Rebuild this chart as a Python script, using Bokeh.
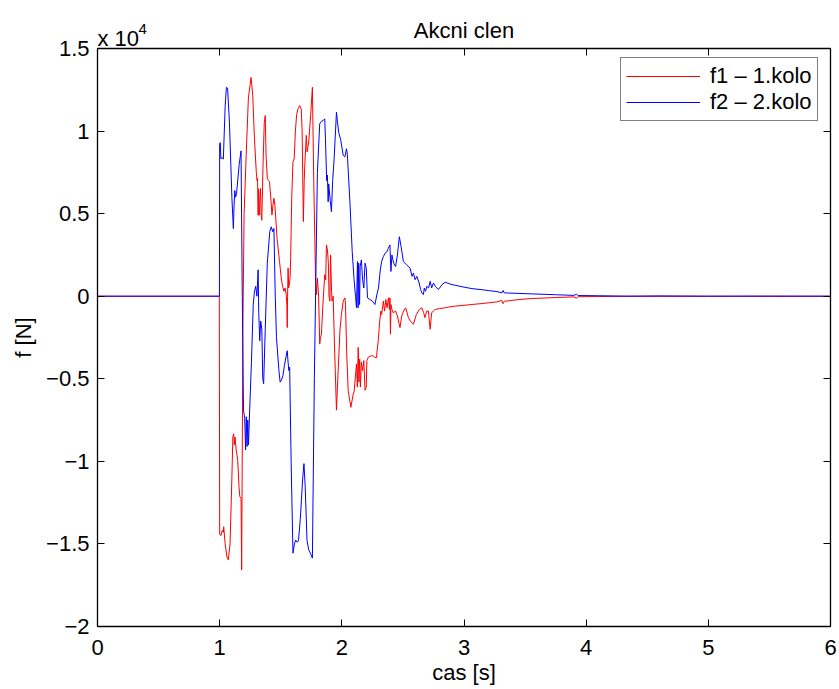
from bokeh.plotting import figure
from bokeh.models import (ColumnDataSource, FixedTicker, LinearAxis,
                          CustomJSTickFormatter, Range1d)
from bokeh.core.properties import value
from bokeh.embed import file_html
from bokeh.resources import INLINE

# ---------------- data (force in units of 10^4 N) ----------------
title_text = "Akcni clen"
x_label = "cas [s]"
y_label = "f [N]"
exp_base = "x 10"
exp_power = "4"
series_names = ["f1 \u2013 1.kolo", "f2 \u2013 2.kolo"]
x_ticks = [0, 1, 2, 3, 4, 5, 6]
y_ticks = [-2, -1.5, -1, -0.5, 0, 0.5, 1, 1.5]
x_lim = (0, 6)
y_lim = (-2, 1.5)

t_f2 = [0.0, 0.998, 1.0, 1.005, 1.01, 1.02, 1.03, 1.045, 1.055, 1.065, 1.08, 1.10,
        1.112, 1.118, 1.124, 1.13, 1.138, 1.16, 1.175, 1.185, 1.195, 1.205, 1.212,
        1.218, 1.224, 1.23, 1.236, 1.245, 1.26, 1.275, 1.285, 1.295, 1.305, 1.315,
        1.32, 1.328, 1.336, 1.345, 1.353, 1.36, 1.373, 1.39, 1.41, 1.422, 1.435,
        1.444, 1.455, 1.465, 1.471, 1.485, 1.495, 1.505, 1.518, 1.53, 1.545, 1.553,
        1.56, 1.566, 1.573, 1.585, 1.60, 1.612, 1.622, 1.635, 1.645, 1.66, 1.68,
        1.69, 1.70, 1.715, 1.729, 1.745, 1.759, 1.775, 1.80, 1.819, 1.835, 1.847,
        1.86, 1.866, 1.872, 1.876, 1.882, 1.888, 1.893, 1.896, 1.905, 1.915, 1.925,
        1.937, 1.956, 1.965, 1.975, 1.99, 2.011, 2.025, 2.038, 2.045, 2.066, 2.085,
        2.10, 2.112, 2.12, 2.128, 2.133, 2.138, 2.145, 2.15, 2.16, 2.17, 2.18, 2.19,
        2.20, 2.21, 2.23, 2.25, 2.271, 2.29, 2.30, 2.315, 2.326, 2.34, 2.354, 2.37,
        2.38, 2.394, 2.398, 2.402, 2.41, 2.418, 2.425, 2.44, 2.455, 2.471, 2.485,
        2.504, 2.53, 2.559, 2.575, 2.586, 2.60, 2.614, 2.633, 2.645, 2.655, 2.668,
        2.675, 2.685, 2.696, 2.71, 2.723, 2.735, 2.75, 2.765, 2.79, 2.82, 2.846,
        2.88, 2.928, 3.0, 3.065, 3.14, 3.203, 3.27, 3.31, 3.32, 3.33, 3.34, 3.45,
        3.558, 3.75, 3.90, 3.92, 3.935, 4.1, 4.35, 4.6, 5.0, 5.5, 6.0]
f2 = [0.0, 0.0, 0.924, 0.93, 0.833, 0.84, 0.83, 1.15, 1.265, 1.26, 1.05, 0.60,
      0.41, 0.55, 0.64, 0.60, 0.62, 0.80, 0.88, 0.0, -0.69, -0.74, -0.93,
      -0.73, -0.91, -0.75, -0.90, -0.70, -0.40, -0.05, 0.03, 0.06, 0.0, 0.16,
      -0.10, -0.27, -0.15, -0.20, -0.50, -0.53, -0.20, 0.20, 0.39, 0.42, 0.39,
      0.41, 0.0, -0.25, -0.31, -0.45, -0.52, -0.51, -0.48, -0.42, -0.36, -0.33,
      -0.40, -0.45, -0.43, -1.0, -1.556, -1.50, -1.476, -1.49, -1.48, -1.35, -1.10,
      -1.014, -1.15, -1.48, -1.536, -1.56, -1.586, -0.50, 0.75, 1.044, 1.06, 1.064,
      1.074, 0.954, 0.80, 0.70, 0.733, 0.572, 0.68, 0.652, 0.58, 0.512, 0.70,
      0.833, 1.114, 1.05, 0.99, 0.95, 0.853, 0.843, 0.893, 0.86, 0.572, 0.27,
      0.10, 0.0, -0.07, 0.21, -0.07, 0.20, -0.05, 0.18, 0.22, 0.10, 0.05, 0.20,
      0.17, -0.01, -0.02, -0.03, -0.05, 0.02, 0.05, 0.16, 0.21, 0.24, 0.26, 0.27,
      0.29, 0.31, 0.22, 0.15, 0.25, 0.22, 0.20, 0.18, 0.25, 0.36, 0.30,
      0.21, 0.19, 0.17, 0.12, 0.14, 0.10, 0.12, 0.08, 0.04, 0.02, 0.01,
      0.05, 0.03, 0.06, 0.05, 0.09, 0.05, 0.08, 0.06, 0.04, 0.07, 0.085,
      0.075, 0.066, 0.055, 0.046, 0.04, 0.034, 0.028, 0.02, 0.035, 0.02, 0.02, 0.017,
      0.014, 0.009, 0.005, 0.012, 0.004, 0.003, 0.0, 0.002, 0.0, 0.001, 0.0]

t_f1 = [0.0, 0.997, 1.0, 1.01, 1.02, 1.025, 1.03, 1.033, 1.045, 1.06, 1.071, 1.085,
        1.10, 1.108, 1.115, 1.12, 1.126, 1.135, 1.148, 1.158, 1.165, 1.175, 1.18,
        1.19, 1.20, 1.217, 1.235, 1.257, 1.271, 1.285, 1.30, 1.306, 1.31, 1.315,
        1.318, 1.322, 1.326, 1.329, 1.334, 1.34, 1.345, 1.355, 1.365, 1.373, 1.38,
        1.39, 1.40, 1.408, 1.418, 1.428, 1.436, 1.444, 1.452, 1.47, 1.49, 1.504,
        1.515, 1.526, 1.535, 1.545, 1.55, 1.553, 1.556, 1.56, 1.565, 1.573, 1.577,
        1.581, 1.59, 1.60, 1.61, 1.62, 1.63, 1.641, 1.655, 1.668, 1.675, 1.685,
        1.692, 1.698, 1.709, 1.716, 1.722, 1.729, 1.745, 1.759, 1.77, 1.785, 1.792,
        1.80, 1.81, 1.819, 1.825, 1.833, 1.845, 1.86, 1.868, 1.874, 1.882, 1.89,
        1.895, 1.902, 1.908, 1.915, 1.92, 1.929, 1.94, 1.956, 1.97, 1.985, 1.997,
        2.011, 2.025, 2.03, 2.04, 2.052, 2.074, 2.093, 2.10, 2.11, 2.12, 2.127,
        2.134, 2.14, 2.146, 2.152, 2.16, 2.17, 2.18, 2.19, 2.20, 2.205, 2.216,
        2.24, 2.257, 2.27, 2.284, 2.29, 2.298, 2.31, 2.32, 2.326, 2.34, 2.35, 2.36,
        2.37, 2.382, 2.39, 2.394, 2.398, 2.402, 2.41, 2.42, 2.44, 2.455, 2.476,
        2.49, 2.505, 2.523, 2.545, 2.56, 2.586, 2.61, 2.635, 2.655, 2.67, 2.68,
        2.695, 2.709, 2.716, 2.723, 2.735, 2.75, 2.764, 2.80, 2.846, 2.88, 2.928,
        3.0, 3.065, 3.14, 3.203, 3.27, 3.31, 3.32, 3.33, 3.34, 3.45, 3.558, 3.75,
        3.90, 3.92, 3.935, 4.1, 4.35, 4.6, 5.0, 5.5, 6.0]
f1 = [0.0, 0.0, -1.44, -1.45, -1.42, -1.416, -1.43, -1.396, -1.50, -1.58, -1.596, -1.50,
      -1.10, -0.85, -0.833, -0.90, -0.853, -0.93, -0.994, -1.15, -1.215, -1.22, -1.657,
      -0.20, 0.50, 0.853, 1.20, 1.325, 1.215, 0.95, 0.75, 0.70, 0.713, 0.49,
      0.65, 0.49, 0.492, 0.60, 0.653, 0.49, 0.46, 0.80, 1.05, 1.094, 0.85,
      0.713, 0.70, 0.693, 0.60, 0.492, 0.55, 0.593, 0.552, 0.35, 0.21, 0.11,
      0.06, 0.03, 0.05, 0.01, -0.05, -0.19, 0.0, 0.17, 0.05, 0.09, 0.12,
      0.23, 0.60, 0.813, 0.833, 1.0, 1.10, 1.134, 1.154, 1.134, 1.0, 0.452,
      0.70, 0.813, 0.974, 0.874, 0.90, 0.934, 1.10, 1.265, 0.70, 0.10, 0.01,
      0.11, 0.0, -0.29, -0.25, -0.23, -0.05, 0.13, 0.10, 0.31, 0.28, 0.20,
      0.0, -0.03, 0.25, 0.05, -0.03, 0.0, -0.30, -0.69, -0.45, -0.20, -0.11,
      -0.03, -0.01, -0.05, -0.35, -0.57, -0.673, -0.593, -0.58, -0.50, -0.41, -0.55,
      -0.31, -0.52, -0.38, -0.55, -0.40, -0.45, -0.39, -0.57, -0.55, -0.39, -0.37,
      -0.36, -0.362, -0.37, -0.372, -0.32, -0.27, -0.15, -0.09, -0.11, -0.03, -0.09, -0.02,
      -0.07, -0.01, -0.08, -0.01, -0.23, -0.05, -0.08, -0.10, -0.09, -0.12, -0.19,
      -0.12, -0.09, -0.07, -0.13, -0.15, -0.17, -0.11, -0.08, -0.07, -0.10, -0.13,
      -0.09, -0.09, -0.15, -0.20, -0.10, -0.09, -0.08, -0.075, -0.07, -0.065, -0.06,
      -0.055, -0.05, -0.045, -0.04, -0.034, -0.026, -0.045, -0.03, -0.03, -0.02, -0.014, -0.008,
      -0.004, -0.012, -0.003, -0.002, 0.0, -0.001, 0.0, -0.001, 0.0]

# ---------------- layout (pixels) ----------------
W, H = 839, 689
FL, FR, FT, FB = 97, 830, 48, 626      # axes box inside the figure
FONT = "Liberation Sans"

xs = (x_lim[1] - x_lim[0]) / (FR - FL)
ys = (y_lim[1] - y_lim[0]) / (FB - FT)
x_range = Range1d(x_lim[0] - FL * xs, x_lim[1] + (W - FR) * xs)
y_range = Range1d(y_lim[0] - (H - FB) * ys, y_lim[1] + FT * ys)

p = figure(width=W, height=H, output_backend="svg", toolbar_location=None,
           x_range=x_range, y_range=y_range, title_location=None,
           min_border_left=0, min_border_right=0, min_border_top=0,
           min_border_bottom=0)
p.xgrid.visible = False
p.ygrid.visible = False
p.outline_line_color = None
p.background_fill_color = "white"
p.border_fill_color = "white"

src1 = ColumnDataSource(dict(t=t_f1, f=f1))
src2 = ColumnDataSource(dict(t=t_f2, f=f2))
p.line("t", "f", source=src1, color="#ff0000", line_width=1, legend_label=series_names[0])
p.line("t", "f", source=src2, color="#0000ff", line_width=1, legend_label=series_names[1])

fmt = CustomJSTickFormatter(code="""
const a = Math.abs(tick);
const s = (a < 1e-9) ? "0" : String(Math.round(a * 100) / 100);
return (tick < -1e-9) ? "\\u2212" + s : s;
""")
blank = CustomJSTickFormatter(code="return '';")

def style_axis(ax, ticks, bounds, loc, show_labels):
    ax.fixed_location = loc
    ax.bounds = bounds
    ax.ticker = FixedTicker(ticks=ticks)
    ax.major_tick_in = 7
    ax.major_tick_out = 0
    ax.minor_tick_line_color = None
    ax.axis_line_color = "black"
    ax.axis_line_width = 1.3
    ax.major_tick_line_color = "black"
    ax.major_tick_line_width = 1
    if show_labels:
        ax.formatter = fmt
        ax.major_label_text_font = FONT
        ax.major_label_text_font_size = "22px"
        ax.major_label_text_color = "black"
        ax.axis_label_text_font = FONT
        ax.axis_label_text_font_size = "22px"
        ax.axis_label_text_font_style = "normal"
        ax.axis_label_text_color = "black"
    else:
        ax.formatter = blank
        ax.major_label_standoff = 0
        ax.axis_label = None

xa = p.xaxis[0]
ya = p.yaxis[0]
style_axis(xa, x_ticks, x_lim, y_lim[0], True)
style_axis(ya, y_ticks, y_lim, x_lim[0], True)
xa.axis_label = x_label
ya.axis_label = y_label
xa.major_label_standoff = 13
xa.axis_label_standoff = 2
ya.major_label_standoff = 8
ya.axis_label_standoff = 7

top_ax = LinearAxis()
right_ax = LinearAxis()
style_axis(top_ax, x_ticks, x_lim, y_lim[1], False)
style_axis(right_ax, y_ticks, y_lim, x_lim[1], False)
p.add_layout(top_ax, "above")
p.add_layout(right_ax, "right")

# title and exponent texts, anchored at the top of the axes box
p.text(x=[(x_lim[0] + x_lim[1]) / 2], y=[y_lim[1]], text=[title_text], y_offset=-18,
       text_align="center", text_baseline="alphabetic", text_font=value(FONT),
       text_font_size="22px", text_color="black")
p.text(x=[x_lim[0]], y=[y_lim[1]], text=[exp_base], y_offset=-10,
       text_align="left", text_baseline="alphabetic", text_font=value(FONT),
       text_font_size="22px", text_color="black")
p.text(x=[x_lim[0]], y=[y_lim[1]], text=[exp_power], x_offset=41, y_offset=-20,
       text_align="left", text_baseline="alphabetic", text_font=value(FONT),
       text_font_size="15px", text_color="black")

lg = p.legend[0]
lg.location = (620, H - 121)
lg.margin = 0
lg.padding = 5
lg.spacing = 0
lg.glyph_width = 74
lg.glyph_height = 26
lg.label_height = 26
lg.label_standoff = 10
lg.label_text_font = FONT
lg.label_text_font_size = "22px"
lg.label_text_color = "black"
lg.border_line_color = "black"
lg.border_line_width = 1.3
lg.background_fill_color = "white"
lg.background_fill_alpha = 1.0

open("out.html", "w").write(file_html(p, INLINE))
